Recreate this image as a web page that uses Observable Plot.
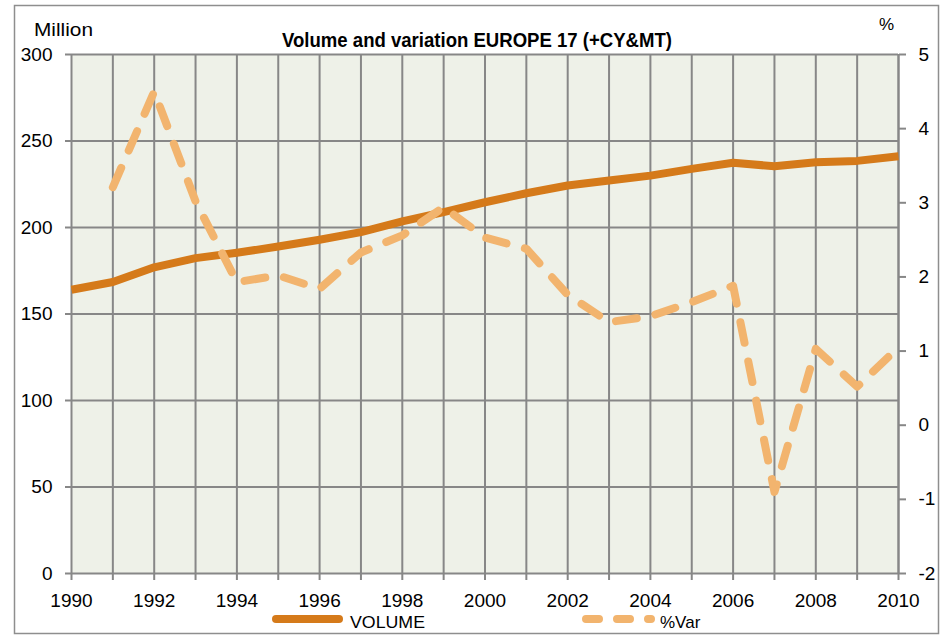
<!DOCTYPE html>
<html>
<head>
<meta charset="utf-8">
<script src="https://cdn.jsdelivr.net/npm/d3@7"></script>
<script src="https://cdn.jsdelivr.net/npm/@observablehq/plot@0.6"></script>
<style>
  html, body { margin: 0; padding: 0; background: #fff; }
  #wrap { position: relative; width: 943px; height: 635px; overflow: hidden; }
  #wrap > svg { position: absolute; left: 0; top: 0; }
  #overlay { pointer-events: none; }
</style>
</head>
<body>
<div id="wrap"></div>
<script>
// ---- data ----
const years = [1990,1991,1992,1993,1994,1995,1996,1997,1998,1999,2000,
               2001,2002,2003,2004,2005,2006,2007,2008,2009,2010];
const volume = [164.0,168.5,177.0,182.3,185.4,189.0,192.9,197.3,203.5,208.9,214.6,
                219.8,224.3,227.2,230.0,233.9,237.4,235.4,237.7,238.5,241.2];
const pctVar = [null,3.21,4.50,3.02,1.93,2.02,1.84,2.33,2.56,2.94,2.53,
                2.38,1.76,1.39,1.47,1.66,1.88,-0.90,1.03,0.52,1.05];
const leftTicks = [0,50,100,150,200,250,300];
const rightTicks = [-2,-1,0,1,2,3,4,5];
const xLabelYears = [1990,1992,1994,1996,1998,2000,2002,2004,2006,2008,2010];

const titleText = "Volume and variation EUROPE 17 (+CY&MT)";
const leftUnit = "Million";
const rightUnit = "%";
const seriesNames = ["VOLUME", "%Var"];

// ---- styling ----
const volColor = "#d57a1a";
const varColor = "#f2b46e";
const gridColor = "#878787";
const bgColor = "#eef1e8";
const font = "'Liberation Sans', Arial, sans-serif";

// right axis (%) mapped on to the left (Million) scale
const rMin = -2, rMax = 5, lMin = 0, lMax = 300;
const toLeft = p => lMin + (p - rMin) / (rMax - rMin) * (lMax - lMin);
const fromLeft = v => rMin + (v - lMin) / (lMax - lMin) * (rMax - rMin);

const rows = years.map((yr, i) => ({year: yr, volume: volume[i], pct: pctVar[i]}));

const W = 943, H = 635;
const chart = Plot.plot({
  width: W,
  height: H,
  marginLeft: 71,
  marginRight: 45,
  marginTop: 54,
  marginBottom: 62,
  style: {fontFamily: font, fontSize: "19px", color: "#000", background: "transparent", overflow: "visible"},
  x: {domain: [1990, 2010]},
  y: {domain: [lMin, lMax]},
  marks: [
    Plot.frame({fill: bgColor, stroke: "none"}),
    Plot.gridX(years, {stroke: gridColor, strokeOpacity: 1, strokeWidth: 2}),
    Plot.gridY(leftTicks, {stroke: gridColor, strokeOpacity: 1, strokeWidth: 2}),
    Plot.axisX(years, {
      tickSize: 7, tickPadding: 13, stroke: gridColor, strokeWidth: 2, fill: "#000",
      tickFormat: d => xLabelYears.includes(d) ? String(d) : "", label: null
    }),
    Plot.axisY(leftTicks, {
      anchor: "left", tickSize: 6, tickPadding: 13, stroke: gridColor, strokeWidth: 2, fill: "#000",
      tickFormat: d => String(d), label: null
    }),
    Plot.axisY(rightTicks.map(toLeft), {
      anchor: "right", tickSize: 7, tickPadding: 13, stroke: gridColor, strokeWidth: 2, fill: "#000",
      tickFormat: d => String(Math.round(fromLeft(d))), label: null
    }),
    Plot.ruleX([2010], {stroke: gridColor, strokeWidth: 2}),
    Plot.line(rows, {x: "year", y: "volume", stroke: volColor, strokeWidth: 8,
      strokeLinejoin: "round", strokeLinecap: "butt"}),
    Plot.line(rows.filter(d => d.pct != null), {x: "year", y: d => toLeft(d.pct),
      stroke: varColor, strokeWidth: 8, strokeDasharray: "21,19",
      strokeLinecap: "round", strokeLinejoin: "round"})
  ]
});
const wrap = document.getElementById("wrap");
wrap.appendChild(chart);

// ---- overlay: border, title, unit labels, legend ----
const ov = d3.select(wrap).append("svg")
  .attr("id", "overlay").attr("width", W).attr("height", H)
  .attr("font-family", font);

ov.append("rect").attr("x", 14.5).attr("y", 5.5).attr("width", 924).attr("height", 628)
  .attr("fill", "none").attr("stroke", "#8e8e8e").attr("stroke-width", 1.5);

ov.append("text").attr("x", 477).attr("y", 46.5).attr("text-anchor", "middle")
  .attr("font-weight", "bold").attr("font-size", 19.5)
  .attr("textLength", 390).attr("lengthAdjust", "spacingAndGlyphs")
  .text(titleText);

ov.append("text").attr("x", 34).attr("y", 36).attr("font-size", 19)
  .attr("textLength", 59).attr("lengthAdjust", "spacingAndGlyphs").text(leftUnit);
ov.append("text").attr("x", 879).attr("y", 30).attr("font-size", 17).text(rightUnit);

// legend
const lg = ov.append("g");
lg.append("line").attr("x1", 276).attr("x2", 339).attr("y1", 619).attr("y2", 619)
  .attr("stroke", volColor).attr("stroke-width", 8).attr("stroke-linecap", "round");
lg.append("text").attr("x", 350).attr("y", 628).attr("font-size", 17)
  .attr("textLength", 75).attr("lengthAdjust", "spacingAndGlyphs").text(seriesNames[0]);
lg.append("line").attr("x1", 586).attr("x2", 651).attr("y1", 619).attr("y2", 619)
  .attr("stroke", varColor).attr("stroke-width", 8).attr("stroke-linecap", "round")
  .attr("stroke-dasharray", "13,18");
lg.append("text").attr("x", 660).attr("y", 628).attr("font-size", 17).text(seriesNames[1]);
</script>
</body>
</html>
